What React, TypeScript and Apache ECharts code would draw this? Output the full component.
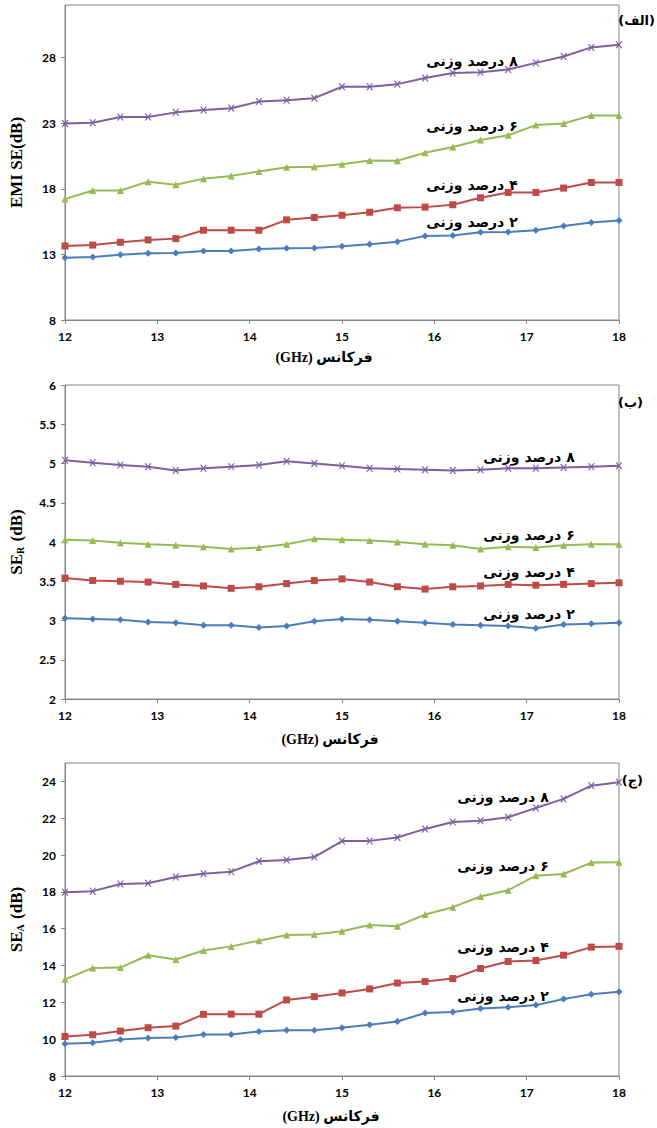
import React, { useEffect, useRef } from "react";
import * as echarts from "echarts";

const freq = [12, 12.3, 12.6, 12.9, 13.2, 13.5, 13.8, 14.1, 14.4, 14.7, 15, 15.3, 15.6, 15.9, 16.2, 16.5, 16.8, 17.1, 17.4, 17.7, 18];

// Panel (الف) total EMI SE
const total2 = [12.74, 12.8, 12.97, 13.08, 13.1, 13.26, 13.26, 13.41, 13.46, 13.48, 13.61, 13.77, 13.97, 14.4, 14.43, 14.68, 14.71, 14.84, 15.17, 15.42, 15.58];
const total4 = [13.64, 13.71, 13.92, 14.1, 14.2, 14.84, 14.84, 14.84, 15.63, 15.81, 15.98, 16.21, 16.55, 16.6, 16.78, 17.31, 17.72, 17.72, 18.05, 18.48, 18.48];
const total6 = [17.21, 17.87, 17.87, 18.54, 18.31, 18.77, 18.98, 19.32, 19.64, 19.67, 19.87, 20.15, 20.13, 20.74, 21.18, 21.72, 22.08, 22.85, 22.97, 23.59, 23.59];
const total8 = [22.97, 23.03, 23.46, 23.46, 23.82, 24.0, 24.13, 24.64, 24.74, 24.9, 25.77, 25.77, 25.97, 26.44, 26.82, 26.87, 27.08, 27.59, 28.08, 28.77, 28.97];

// Panel (ب) reflection SE_R
const refl2 = [3.03, 3.02, 3.01, 2.98, 2.97, 2.94, 2.94, 2.91, 2.93, 2.99, 3.02, 3.01, 2.99, 2.97, 2.95, 2.94, 2.93, 2.9, 2.95, 2.96, 2.97];
const refl4 = [3.54, 3.51, 3.5, 3.49, 3.46, 3.44, 3.41, 3.43, 3.47, 3.51, 3.53, 3.49, 3.43, 3.4, 3.43, 3.44, 3.46, 3.45, 3.46, 3.47, 3.48];
const refl6 = [4.03, 4.02, 3.99, 3.97, 3.96, 3.94, 3.91, 3.93, 3.97, 4.04, 4.03, 4.02, 4.0, 3.97, 3.96, 3.91, 3.94, 3.93, 3.96, 3.97, 3.97];
const refl8 = [5.04, 5.01, 4.98, 4.96, 4.91, 4.94, 4.96, 4.98, 5.03, 5.0, 4.97, 4.94, 4.93, 4.92, 4.91, 4.92, 4.94, 4.94, 4.95, 4.96, 4.97];

// Panel (ج) absorption SE_A
const abs2 = [9.75, 9.8, 9.98, 10.07, 10.09, 10.25, 10.25, 10.42, 10.49, 10.49, 10.62, 10.78, 10.96, 11.42, 11.47, 11.67, 11.73, 11.85, 12.18, 12.44, 12.58];
const abs4 = [10.15, 10.24, 10.44, 10.62, 10.71, 11.35, 11.36, 11.36, 12.13, 12.31, 12.51, 12.73, 13.05, 13.13, 13.29, 13.84, 14.22, 14.27, 14.56, 15.0, 15.04];
const abs6 = [13.25, 13.87, 13.89, 14.56, 14.33, 14.82, 15.04, 15.35, 15.66, 15.69, 15.86, 16.2, 16.14, 16.77, 17.17, 17.75, 18.09, 18.88, 18.97, 19.59, 19.61];
const abs8 = [17.98, 18.04, 18.43, 18.47, 18.81, 18.99, 19.1, 19.66, 19.73, 19.89, 20.76, 20.77, 20.95, 21.42, 21.8, 21.86, 22.05, 22.56, 23.05, 23.77, 23.95];

const seriesLabels = ["۲ درصد وزنی", "۴ درصد وزنی", "۶ درصد وزنی", "۸ درصد وزنی"];
const panelLabels = ["(الف)", "(ب)", "(ج)"];
const xTitle = "(GHz) فرکانس";

const COLORS = ["#4A7EBB", "#BE4B48", "#98B954", "#7D60A0"];
const SYMBOLS = [
  "diamond",
  "rect",
  "triangle",
  "path://M0,0L2,0L5,3.6L8,0L10,0L6.2,5L10,10L8,10L5,6.4L2,10L0,10L3.8,5Z",
];
const SYMSIZE = [7, 7, 7, 7];

const AXIS_GRAY = "#868686";
const TICK_FONT = "Lato, 'DejaVu Sans', sans-serif";
const PERSIAN_FONT = "'DejaVu Sans', sans-serif";

const rtl = (s: string) => "\u202B" + s + "\u202C";

export default function App() {
  const ref = useRef<HTMLDivElement>(null);
  useEffect(() => {
    if (!ref.current) return;
    const chart = echarts.init(ref.current, null, { renderer: "svg" });

    const grids = [
      { left: 63, right: 38, top: 5, height: 315 },
      { left: 65, right: 38, top: 385, height: 314 },
      { left: 63, right: 38, top: 763, height: 313 },
    ];

    const yDefs = [
      { min: 8, max: 32, interval: 5, name: "EMI SE(dB)", showMax: false },
      { min: 2, max: 6, interval: 0.5, name: "SE{sub|R} (dB)", showMax: true },
      { min: 8, max: 25, interval: 2, name: "SE{sub|A} (dB)", showMax: false },
    ];
    const xNameGaps = [30, 33, 33];
    const xNameShift = [36, 24, 22];

    const panelData = [
      [total2, total4, total6, total8],
      [refl2, refl4, refl6, refl8],
      [abs2, abs4, abs6, abs8],
    ];

    const xAxes = grids.map((_, i) => ({
      type: "value",
      gridIndex: i,
      min: 12,
      max: 18,
      interval: 1,
      axisLine: { show: true, lineStyle: { color: AXIS_GRAY, width: 1 } },
      axisTick: { show: true, length: 4, lineStyle: { color: AXIS_GRAY } },
      splitLine: { show: false },
      axisLabel: {
        color: "#000",
        fontWeight: "bold",
        fontSize: 12,
        fontFamily: TICK_FONT,
        margin: 10,
      },
      name: xTitle,
      nameLocation: "middle",
      nameGap: xNameGaps[i],
      nameTextStyle: {
        color: "#000",
        fontWeight: "bold",
        fontSize: 14,
        fontFamily: "'Liberation Serif', 'DejaVu Sans', serif",
        padding: [0, xNameShift[i], 0, 0],
      },
    }));

    const yAxes = yDefs.map((d, i) => ({
      type: "value",
      gridIndex: i,
      min: d.min,
      max: d.max,
      interval: d.interval,
      axisLine: { show: true, lineStyle: { color: AXIS_GRAY, width: 1 } },
      axisTick: { show: true, length: 4, lineStyle: { color: AXIS_GRAY } },
      splitLine: { show: false },
      axisLabel: {
        color: "#000",
        fontWeight: "bold",
        fontSize: 12,
        fontFamily: TICK_FONT,
        margin: 9,
        showMaxLabel: d.showMax,
      },
      name: d.name,
      nameLocation: "middle",
      nameRotate: 90,
      nameGap: 40,
      nameTextStyle: {
        color: "#000",
        fontWeight: "bold",
        fontSize: 17,
        fontFamily: "'Liberation Serif', serif",
        rich: {
          sub: {
            fontSize: 10,
            fontWeight: "bold",
            fontFamily: "'Liberation Serif', serif",
            verticalAlign: "bottom",
            padding: [6, 1, 0, 0],
          },
        },
      },
    }));

    const series: any[] = [];
    panelData.forEach((arrs, p) => {
      arrs.forEach((vals, s) => {
        series.push({
          type: "line",
          xAxisIndex: p,
          yAxisIndex: p,
          data: freq.map((f, k) => [f, vals[k]]),
          symbol: SYMBOLS[s],
          symbolSize: SYMSIZE[s],
          showSymbol: true,
          lineStyle: { color: COLORS[s], width: 2 },
          itemStyle: { color: COLORS[s] },
          z: 2 + s,
        });
      });
    });

    const labelPos = [
      [
        [472, 222],
        [472, 185],
        [472, 126],
        [472, 61],
      ],
      [
        [529, 614],
        [529, 572],
        [529, 535],
        [529, 457],
      ],
      [
        [503, 996],
        [503, 947],
        [503, 866],
        [503, 797],
      ],
    ];
    const panelLabelPos = [
      [655, 20],
      [643, 402],
      [643, 780],
    ];

    const graphic: any[] = [];
    labelPos.forEach((panel) =>
      panel.forEach((pos, s) => {
        graphic.push({
          type: "text",
          x: pos[0],
          y: pos[1],
          style: {
            text: rtl(seriesLabels[s]),
            fill: "#000",
            font: `bold 14px ${PERSIAN_FONT}`,
            textAlign: "center",
            textVerticalAlign: "middle",
          },
        });
      })
    );
    panelLabelPos.forEach((pos, i) => {
      graphic.push({
        type: "text",
        x: pos[0],
        y: pos[1],
        style: {
          text: panelLabels[i],
          fill: "#000",
          font: `bold 13px ${PERSIAN_FONT}`,
          textAlign: "right",
          textVerticalAlign: "middle",
        },
      });
    });

    chart.setOption({
      animation: false,
      backgroundColor: "#fff",
      grid: grids.map((g) => ({
        ...g,
        show: true,
        borderColor: AXIS_GRAY,
        borderWidth: 1,
        backgroundColor: "transparent",
      })),
      xAxis: xAxes,
      yAxis: yAxes,
      series,
      graphic,
    });
    return () => chart.dispose();
  }, []);

  return (
    <div
      ref={ref}
      style={{ position: "absolute", left: 0, top: 0, width: 657, height: 1128 }}
    />
  );
}
